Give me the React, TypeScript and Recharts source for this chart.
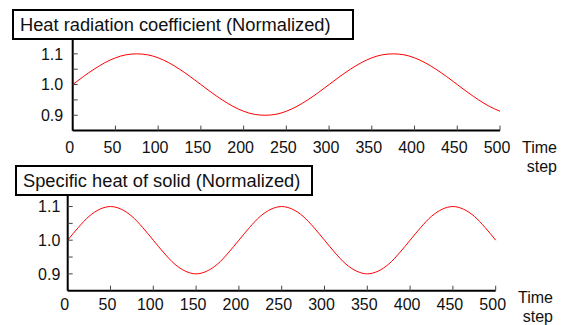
import React from "react";
import { LineChart, Line, XAxis, YAxis } from "recharts";

// time steps sampled every 12.5
const timeSteps = [
  0, 12.5, 25, 37.5, 50, 62.5, 75, 87.5, 100, 112.5, 125, 137.5, 150, 162.5,
  175, 187.5, 200, 212.5, 225, 237.5, 250, 262.5, 275, 287.5, 300, 312.5, 325,
  337.5, 350, 362.5, 375, 387.5, 400, 412.5, 425, 437.5, 450, 462.5, 475,
  487.5, 500,
];

const heatRadiation = [
  1.0, 1.026, 1.05, 1.071, 1.087, 1.097, 1.1, 1.097, 1.087, 1.071, 1.05, 1.026,
  1.0, 0.974, 0.95, 0.929, 0.913, 0.903, 0.9, 0.903, 0.913, 0.929, 0.95, 0.974,
  1.0, 1.026, 1.05, 1.071, 1.087, 1.097, 1.1, 1.097, 1.087, 1.071, 1.05, 1.026,
  1.0, 0.974, 0.95, 0.929, 0.913,
];

const specificHeat = [
  1.0, 1.038, 1.071, 1.092, 1.1, 1.092, 1.071, 1.038, 1.0, 0.962, 0.929, 0.908,
  0.9, 0.908, 0.929, 0.962, 1.0, 1.038, 1.071, 1.092, 1.1, 1.092, 1.071, 1.038,
  1.0, 0.962, 0.929, 0.908, 0.9, 0.908, 0.929, 0.962, 1.0, 1.038, 1.071, 1.092,
  1.1, 1.092, 1.071, 1.038, 1.0,
];

const xTicks = [0, 50, 100, 150, 200, 250, 300, 350, 400, 450, 500];
const yTicks = [0.9, 0.95, 1.0, 1.05, 1.1];

const titles = [
  "Heat radiation coefficient (Normalized)",
  "Specific heat of solid (Normalized)",
];

const data = timeSteps.map((t, i) => ({
  t,
  heat: heatRadiation[i],
  cp: specificHeat[i],
}));

const FONT = "Arial, 'Liberation Sans', Helvetica, sans-serif";

// only 0.9 / 1.0 / 1.1 get a label, the rest are bare ticks
const yLabel = (v: number) =>
  Math.abs(v * 10 - Math.round(v * 10)) < 1e-6 ? v.toFixed(1) : "";

interface PanelProps {
  dataKey: string;
  height: number;
  marginTop: number;
  marginRight: number;
  yAxisWidth: number;
  xAxisHeight: number;
  xTickMargin: number;
  yTickMargin: number;
}

function Panel({
  dataKey,
  height,
  marginTop,
  marginRight,
  yAxisWidth,
  xAxisHeight,
  xTickMargin,
  yTickMargin,
}: PanelProps) {
  return (
    <LineChart
      width={566}
      height={height}
      data={data}
      margin={{ top: marginTop, right: marginRight, bottom: 0, left: 0 }}
    >
      <XAxis
        xAxisId="b"
        dataKey="t"
        type="number"
        domain={[0, 500]}
        ticks={xTicks}
        height={xAxisHeight}
        tickSize={-5}
        tickMargin={xTickMargin}
        axisLine={{ stroke: "#000", strokeWidth: 2 }}
        tickLine={{ stroke: "#444" }}
        tick={{ fontSize: 16, fill: "#111", dx: -3 }}
        interval={0}
      />
      <XAxis
        xAxisId="t"
        orientation="top"
        dataKey="t"
        type="number"
        domain={[0, 500]}
        ticks={xTicks}
        height={0}
        tickSize={-5}
        axisLine={{ stroke: "#555", strokeWidth: 1 }}
        tickLine={{ stroke: "#444" }}
        tickFormatter={() => ""}
        interval={0}
      />
      <YAxis
        yAxisId="l"
        type="number"
        domain={[0.85, 1.15]}
        ticks={yTicks}
        width={yAxisWidth}
        tickSize={-5}
        tickMargin={yTickMargin}
        axisLine={{ stroke: "#000", strokeWidth: 2 }}
        tickLine={{ stroke: "#444" }}
        tick={{ fontSize: 16, fill: "#111" }}
        tickFormatter={yLabel}
        interval={0}
      />
      <YAxis
        yAxisId="r"
        orientation="right"
        type="number"
        domain={[0.85, 1.15]}
        ticks={yTicks}
        width={0}
        tickSize={-5}
        axisLine={{ stroke: "#555", strokeWidth: 1 }}
        tickLine={{ stroke: "#444" }}
        tickFormatter={() => ""}
        interval={0}
      />
      <Line
        xAxisId="b"
        yAxisId="l"
        type="monotone"
        dataKey={dataKey}
        stroke="#ff0000"
        strokeWidth={1}
        dot={false}
        isAnimationActive={false}
      />
    </LineChart>
  );
}

const titleBox: React.CSSProperties = {
  position: "absolute",
  boxSizing: "border-box",
  height: 31,
  border: "2px solid #000",
  background: "#fff",
  fontSize: 18.3,
  lineHeight: "27px",
  paddingLeft: 6,
  whiteSpace: "nowrap",
  color: "#111",
};

const axisName: React.CSSProperties = {
  position: "absolute",
  fontSize: 16,
  lineHeight: "19px",
  textAlign: "right",
  color: "#111",
};

export default function App() {
  return (
    <div
      style={{
        position: "absolute",
        left: 0,
        top: 0,
        width: 566,
        height: 325,
        background: "#fff",
        fontFamily: FONT,
        overflow: "hidden",
      }}
    >
      <div style={{ position: "absolute", left: 0, top: 0 }}>
        <Panel
          dataKey="heat"
          height={165}
          marginTop={38.5}
          marginRight={66}
          yAxisWidth={72.7}
          xAxisHeight={34.4}
          xTickMargin={16}
          yTickMargin={14.5}
        />
      </div>
      <div style={{ position: "absolute", left: 0, top: 150 }}>
        <Panel
          dataKey="cp"
          height={175}
          marginTop={39.7}
          marginRight={70.3}
          yAxisWidth={67.7}
          xAxisHeight={34.3}
          xTickMargin={13}
          yTickMargin={12.4}
        />
      </div>
      <div style={{ ...titleBox, left: 12, top: 9, width: 342 }}>{titles[0]}</div>
      <div style={{ ...titleBox, left: 15, top: 165, width: 298 }}>{titles[1]}</div>
      <div style={{ ...axisName, right: 9, top: 138 }}>
        Time
        <br />
        step
      </div>
      <div style={{ ...axisName, right: 13, top: 288 }}>
        Time
        <br />
        step
      </div>
    </div>
  );
}
